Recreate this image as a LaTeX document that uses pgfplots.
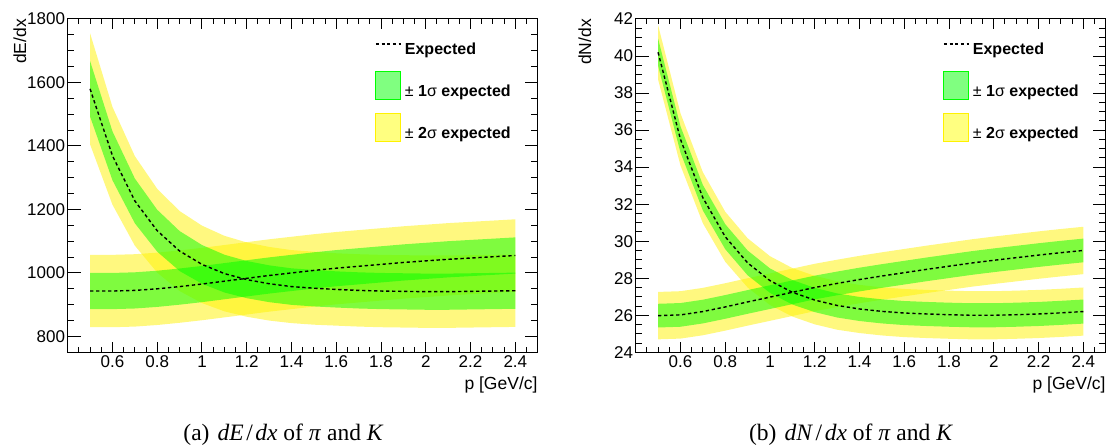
\documentclass[border=0pt]{standalone}
\usepackage{fontspec}
\setmainfont{Liberation Sans}
\newfontfamily\capfont{Liberation Serif}
\usepackage{pgfplots}
\pgfplotsset{compat=1.18}
\usepackage{pgfplotstable}
\usepgfplotslibrary{fillbetween}

\definecolor{lgreen}{RGB}{128,255,128}
\definecolor{lyellow}{RGB}{255,255,128}

\pgfplotstableread{
p c glo ghi ylo yhi
0.5 1580 1492.5 1667.5 1405 1755
0.6 1369 1292 1446 1215 1523
0.7 1227 1156.5 1297.5 1086 1368
0.8 1133 1067 1199 1001 1265
0.9 1069 1006 1132 943 1195
1.0 1027 966 1088 905 1149
1.1 998 938.5 1057.5 879 1117
1.2 979 920.5 1037.5 862 1096
1.3 966 908 1024 850 1082
1.4 957 899.5 1014.5 842 1072
1.5 952 894.5 1009.5 837 1067
1.6 948 891 1005 834 1062
1.7 945 888 1002 831 1059
1.8 943 886 1000 829 1057
1.9 942 885 999 828 1056
2.0 941 884 998 827 1055
2.1 941 884 998 827 1055
2.2 942 885 999 828 1056
2.3 943 886 1000 829 1057
2.4 944 887 1001 830 1058
}\tabLA

\pgfplotstableread{
p c glo ghi ylo yhi
0.5 943 886 1000 829 1057
0.6 943 886 1000 829 1057
0.7 945 888 1002 831 1059
0.8 950 893 1007 836 1064
0.9 957 900 1014 843 1071
1.0 965 908 1022 851 1079
1.1 974 917 1031 860 1088
1.2 983 926 1040 869 1097
1.3 992 935 1049 878 1106
1.4 1000 943 1057 886 1114
1.5 1008 951 1065 894 1122
1.6 1015 958 1072 901 1129
1.7 1021 964 1078 907 1135
1.8 1027 970 1084 913 1141
1.9 1033 976 1090 919 1147
2.0 1038 981 1095 924 1152
2.1 1043 986 1100 929 1157
2.2 1047 990 1104 933 1161
2.3 1051 994 1108 937 1165
2.4 1055 998 1112 941 1169
}\tabLB

\pgfplotstableread{
p c glo ghi ylo yhi
0.5 40.20 39.47 40.94 38.73 41.67
0.6 35.50 34.79 36.21 34.09 36.91
0.7 32.35 31.66 33.04 30.97 33.73
0.8 30.24 29.57 30.92 28.89 31.59
0.9 28.83 28.16 29.50 27.50 30.16
1.0 27.87 27.21 28.53 26.55 29.19
1.1 27.24 26.58 27.90 25.93 28.55
1.2 26.82 26.17 27.48 25.51 28.13
1.3 26.53 25.88 27.18 25.22 27.84
1.4 26.34 25.69 26.99 25.04 27.64
1.5 26.21 25.56 26.86 24.91 27.51
1.6 26.12 25.47 26.77 24.82 27.42
1.7 26.07 25.42 26.72 24.77 27.37
1.8 26.03 25.38 26.68 24.73 27.33
1.9 26.00 25.35 26.65 24.70 27.30
2.0 26.00 25.35 26.65 24.70 27.30
2.1 26.03 25.38 26.68 24.73 27.33
2.2 26.07 25.42 26.72 24.77 27.37
2.3 26.13 25.48 26.78 24.83 27.43
2.4 26.20 25.55 26.85 24.90 27.50
}\tabRA

\pgfplotstableread{
p c glo ghi ylo yhi
0.5 25.98 25.34 26.62 24.70 27.26
0.6 26.02 25.38 26.66 24.74 27.30
0.7 26.20 25.56 26.84 24.92 27.48
0.8 26.45 25.81 27.09 25.17 27.73
0.9 26.72 26.08 27.36 25.44 28.00
1.0 26.98 26.34 27.62 25.70 28.26
1.1 27.24 26.60 27.88 25.96 28.52
1.2 27.50 26.86 28.14 26.22 28.78
1.3 27.72 27.08 28.36 26.44 29.00
1.4 27.93 27.29 28.57 26.65 29.21
1.5 28.12 27.48 28.76 26.84 29.40
1.6 28.30 27.66 28.94 27.02 29.58
1.7 28.48 27.84 29.12 27.20 29.76
1.8 28.65 28.01 29.29 27.37 29.93
1.9 28.82 28.18 29.46 27.54 30.10
2.0 28.97 28.33 29.61 27.69 30.25
2.1 29.11 28.47 29.75 27.83 30.39
2.2 29.25 28.61 29.89 27.97 30.53
2.3 29.38 28.74 30.02 28.10 30.66
2.4 29.50 28.86 30.14 28.22 30.78
}\tabRB

\newcommand{\bandfill}[5]{%
  \addplot[draw=none, name path=#1h, forget plot] table[x=p,y=#3]{#2};
  \addplot[draw=none, name path=#1l, forget plot] table[x=p,y=#4]{#2};
  \addplot[fill=#5, fill opacity=0.5, draw=none, forget plot] fill between[of=#1h and #1l];
}
\newcommand{\expline}[1]{%
  \addplot[black, line width=1.4pt, dash pattern=on 3.3pt off 2.7pt, forget plot] table[x=p,y=c]{#1};
}
\newcommand{\legendstuff}{%
  \addlegendimage{legend image code/.code={\draw[black, line width=1.4pt, dash pattern=on 3pt off 2.7pt] (0pt,5.5pt) -- (25pt,5.5pt);}}
  \addlegendentry{Expected}
  \addlegendimage{legend image code/.code={\draw[fill=lgreen, draw=green, line width=1.2pt] (0pt,-8.5pt) rectangle (25pt,19.5pt);}}
  \addlegendentry{{\mdseries ±} 1{\mdseries σ} expected}
  \addlegendimage{legend image code/.code={\draw[fill=lyellow, draw=yellow, line width=1.2pt] (0pt,-8.5pt) rectangle (25pt,19.5pt);}}
  \addlegendentry{{\mdseries ±} 2{\mdseries σ} expected}
}

\pgfplotsset{
  rootax/.style={
    width=470pt, height=333.3pt, scale only axis,
    xmin=0.4, xmax=2.5,
    xtick={0.6,0.8,1,1.2,1.4,1.6,1.8,2,2.2,2.4},
    minor xtick={0.45,0.5,0.55,0.6,0.65,0.7,0.75,0.8,0.85,0.9,0.95,1,1.05,1.1,1.15,1.2,1.25,1.3,1.35,1.4,1.45,1.5,1.55,1.6,1.65,1.7,1.75,1.8,1.85,1.9,1.95,2,2.05,2.1,2.15,2.2,2.25,2.3,2.35,2.4,2.45},
    minor y tick num=3,
    tick align=inside, xtick pos=both, ytick pos=both,
    axis line style={line width=1pt},
    every tick/.style={black, line width=1pt},
    xtick style={/pgfplots/major tick length=10pt, /pgfplots/minor tick length=5pt},
    ytick style={/pgfplots/major tick length=13pt, /pgfplots/minor tick length=6.5pt},
    tick label style={font=\fontsize{17}{20}\selectfont},
    /pgf/number format/assume math mode=true,
    /pgf/number format/1000 sep={},
    yticklabel style={inner sep=2.5pt},
    label style={font=\fontsize{17.5}{20}\selectfont},
    xlabel={p [GeV/c]},
    xlabel style={at={(axis description cs:1,0)}, anchor=north east, yshift=-24pt, inner sep=0pt},
    legend cell align=left,
    legend style={at={(axis description cs:0.6538,0.939)}, anchor=north west, draw=none, fill=none,
      inner sep=0pt, row sep=11.8pt, column sep=0pt,
      nodes={inner sep=0.333em, font=\bfseries\fontsize{16}{19}\selectfont}},
  }
}

\begin{document}
\begin{tikzpicture}

\begin{axis}[rootax, at={(67.7pt,-352.3pt)}, anchor=south west,
  ymin=750, ymax=1800, ytick={800,1000,1200,1400,1600,1800},
  ylabel={dE/dx},
  ylabel style={at={(axis description cs:-0.102,1)}, anchor=east, inner sep=0pt}]
  \bandfill{LAy}{\tabLA}{yhi}{ylo}{yellow}
  \bandfill{LBy}{\tabLB}{yhi}{ylo}{yellow}
  \bandfill{LAg}{\tabLA}{ghi}{glo}{green}
  \bandfill{LBg}{\tabLB}{ghi}{glo}{green}
  \expline{\tabLA}
  \expline{\tabLB}
  \legendstuff
\end{axis}

\begin{axis}[rootax, at={(635.7pt,-352.3pt)}, anchor=south west,
  ymin=24, ymax=42, ytick={24,26,28,30,32,34,36,38,40,42},
  ylabel={dN/dx},
  ylabel style={at={(axis description cs:-0.108,1)}, anchor=east, inner sep=0pt}]
  \bandfill{RAy}{\tabRA}{yhi}{ylo}{yellow}
  \bandfill{RBy}{\tabRB}{yhi}{ylo}{yellow}
  \bandfill{RAg}{\tabRA}{ghi}{glo}{green}
  \bandfill{RBg}{\tabRB}{ghi}{glo}{green}
  \expline{\tabRA}
  \expline{\tabRB}
  \legendstuff
\end{axis}

\node[anchor=base, font=\capfont\fontsize{23.5}{27}\selectfont] at (283.5pt,-440.5pt)
  {(a)\hspace{0.1em} \textit{dE}\kern2.5pt/\kern2.5pt\textit{dx} of \textit{π} and \textit{K}};
\node[anchor=base, font=\capfont\fontsize{23.5}{27}\selectfont] at (851pt,-440.5pt)
  {(b)\hspace{0.1em} \textit{dN}\kern2.5pt/\kern2.5pt\textit{dx} of \textit{π} and \textit{K}};

\pgfresetboundingbox
\useasboundingbox (0pt,0pt) rectangle (1110pt,-446pt);
\end{tikzpicture}
\end{document}
